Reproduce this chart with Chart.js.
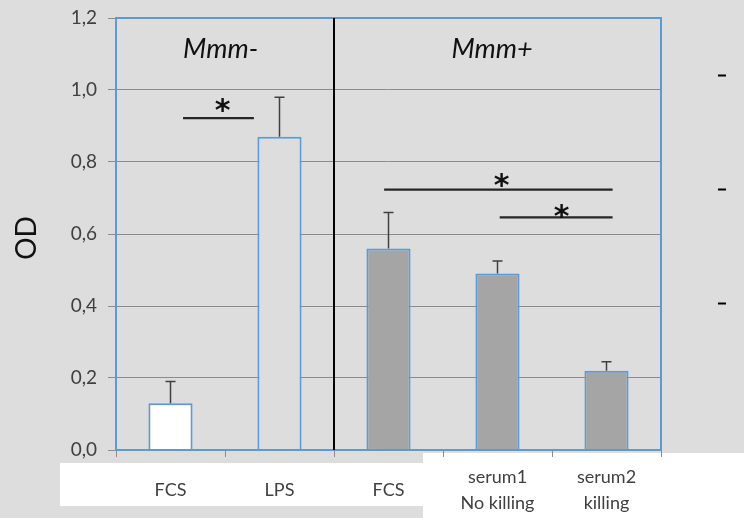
<!doctype html>
<html lang="en">
<head>
  <meta charset="UTF-8">
  <title>OD</title>
  <style>
    html,
    body {
      margin: 0;
      padding: 0;
      background-color: #dddddd;
    }
  </style>
</head>
<body>
  <canvas id="odChart" width="744" height="518"></canvas>

  <script src="https://cdn.jsdelivr.net/npm/chart.js@4/dist/chart.umd.min.js"></script>
  <script>
    // groups and measured OD (mean + upper error)
    const groups = [['FCS'], ['LPS'], ['FCS'], ['serum1', 'No killing'], ['serum2', 'killing']];
    const odMeans = [0.13, 0.87, 0.56, 0.49, 0.22];
    const odErrors = [0.06, 0.11, 0.10, 0.035, 0.025];
    const yTicks = [0, 0.2, 0.4, 0.6, 0.8, 1.0, 1.2];

    // significance bars, in category units (x) and OD (y)
    const sigFrom = [0.115, 1.96, 3.02];
    const sigTo = [0.765, 4.056, 4.056];
    const sigLevel = [0.922, 0.723, 0.646];
    const starX = [0.48, 3.04, 3.59];
    const starLevel = [0.956, 0.75, 0.663];

    const BLUE = '#5b9bd5';
    const GRID = '#8c8c8c';
    const barFills = ['#ffffff', '#dddddd', '#a5a5a5', '#a5a5a5', '#a5a5a5'];

    function catPx(x, u) {
      const p0 = x.getPixelForValue(0);
      const p1 = x.getPixelForValue(1);
      return p0 + u * (p1 - p0);
    }

    function centeredText(ctx, txt, cx, cy) {
      const m = ctx.measureText(txt);
      const bx = cx - (m.actualBoundingBoxRight - m.actualBoundingBoxLeft) / 2;
      const by = cy + (m.actualBoundingBoxAscent - m.actualBoundingBoxDescent) / 2;
      ctx.textAlign = 'left';
      ctx.textBaseline = 'alphabetic';
      ctx.fillText(txt, bx, by);
    }

    const extras = {
      id: 'extras',
      beforeDraw(chart) {
        const ctx = chart.ctx;
        ctx.save();
        // white label panels under the axis
        ctx.fillStyle = '#ffffff';
        ctx.fillRect(60, 463, 363, 43);
        ctx.fillRect(423, 453, 321, 65);
        ctx.restore();
      },
      afterDatasetsDraw(chart) {
        const ctx = chart.ctx;
        const x = chart.scales.x;
        const y = chart.scales.y;
        const a = chart.chartArea;
        ctx.save();

        // error bars (upper only)
        ctx.strokeStyle = '#404040';
        ctx.lineWidth = 1.5;
        odMeans.forEach(function (m, i) {
          const px = x.getPixelForValue(i);
          const top = y.getPixelForValue(m + odErrors[i]);
          ctx.beginPath();
          ctx.moveTo(px, y.getPixelForValue(m));
          ctx.lineTo(px, top);
          ctx.moveTo(px - 5, top);
          ctx.lineTo(px + 5, top);
          ctx.stroke();
        });

        // plot area border
        ctx.strokeStyle = BLUE;
        ctx.lineWidth = 2;
        ctx.strokeRect(a.left, a.top, a.right - a.left, a.bottom - a.top);

        // divider between the two groups
        const mid = (x.getPixelForValue(1) + x.getPixelForValue(2)) / 2;
        ctx.strokeStyle = '#000000';
        ctx.lineWidth = 2;
        ctx.beginPath();
        ctx.moveTo(mid, a.top);
        ctx.lineTo(mid, a.bottom);
        ctx.stroke();

        // significance lines and stars
        ctx.strokeStyle = '#262626';
        ctx.lineWidth = 2.2;
        sigLevel.forEach(function (lv, i) {
          const py = y.getPixelForValue(lv);
          ctx.beginPath();
          ctx.moveTo(catPx(x, sigFrom[i]), py);
          ctx.lineTo(catPx(x, sigTo[i]), py);
          ctx.stroke();
        });
        ctx.fillStyle = '#111111';
        ctx.font = 'bold 30px "DejaVu Sans"';
        starX.forEach(function (u, i) {
          centeredText(ctx, '*', catPx(x, u), y.getPixelForValue(starLevel[i]));
        });

        // group titles
        ctx.fillStyle = '#111111';
        ctx.font = 'italic 27px Lato, "Open Sans", sans-serif';
        ctx.textAlign = 'center';
        ctx.textBaseline = 'alphabetic';
        ctx.fillText('Mmm-', catPx(x, 0.46), a.top + 40);
        ctx.fillText('Mmm+', catPx(x, 2.95), a.top + 40);

        // axis title
        ctx.save();
        ctx.translate(27, (a.top + a.bottom) / 2 + 4);
        ctx.rotate(-Math.PI / 2);
        ctx.font = '28px Lato, "Open Sans", sans-serif';
        ctx.fillStyle = '#111111';
        ctx.textAlign = 'center';
        ctx.textBaseline = 'middle';
        ctx.fillText('OD', 0, 0);
        ctx.restore();

        // leftover legend dashes at the right
        ctx.strokeStyle = '#000000';
        ctx.lineWidth = 2;
        [1.042, 0.725, 0.408].forEach(function (lv) {
          const py = Math.round(y.getPixelForValue(lv)) + 0.5;
          ctx.beginPath();
          ctx.moveTo(a.right + 57, py);
          ctx.lineTo(a.right + 65, py);
          ctx.stroke();
        });

        ctx.restore();
      }
    };

    new Chart('odChart', {
      type: 'bar',
      data: {
        labels: groups,
        datasets: [{
          data: odMeans,
          backgroundColor: barFills,
          borderColor: BLUE,
          borderWidth: 2,
          categoryPercentage: 1,
          barPercentage: 0.405
        }]
      },
      options: {
        responsive: false,
        animation: false,
        events: [],
        layout: { padding: { top: 18, right: 83, left: 0, bottom: 0 } },
        plugins: {
          legend: { display: false },
          tooltip: { enabled: false }
        },
        scales: {
          x: {
            afterFit: function (s) { s.height = 68; },
            border: { display: false },
            grid: {
              offset: true,
              drawOnChartArea: false,
              drawTicks: true,
              tickLength: 7,
              color: GRID
            },
            ticks: {
              color: '#404040',
              font: { family: 'Lato, "Open Sans", sans-serif', size: 18, lineHeight: 1.45 },
              padding: 20,
              crossAlign: 'center',
              maxRotation: 0,
              autoSkip: false
            }
          },
          y: {
            min: 0,
            max: 1.2,
            afterFit: function (s) {
              s.width = 116;
              s.paddingTop = 0;
              s.paddingBottom = 0;
            },
            afterBuildTicks: function (s) { s.ticks = yTicks.map(v => ({ value: v })); },
            border: { display: false },
            grid: {
              color: GRID,
              tickLength: 8
            },
            ticks: {
              color: '#404040',
              font: { family: 'Lato, "Open Sans", sans-serif', size: 19 },
              padding: 11,
              callback: v => v.toFixed(1).replace('.', ',')
            }
          }
        }
      },
      plugins: [extras]
    });
  </script>
</body>
</html>
